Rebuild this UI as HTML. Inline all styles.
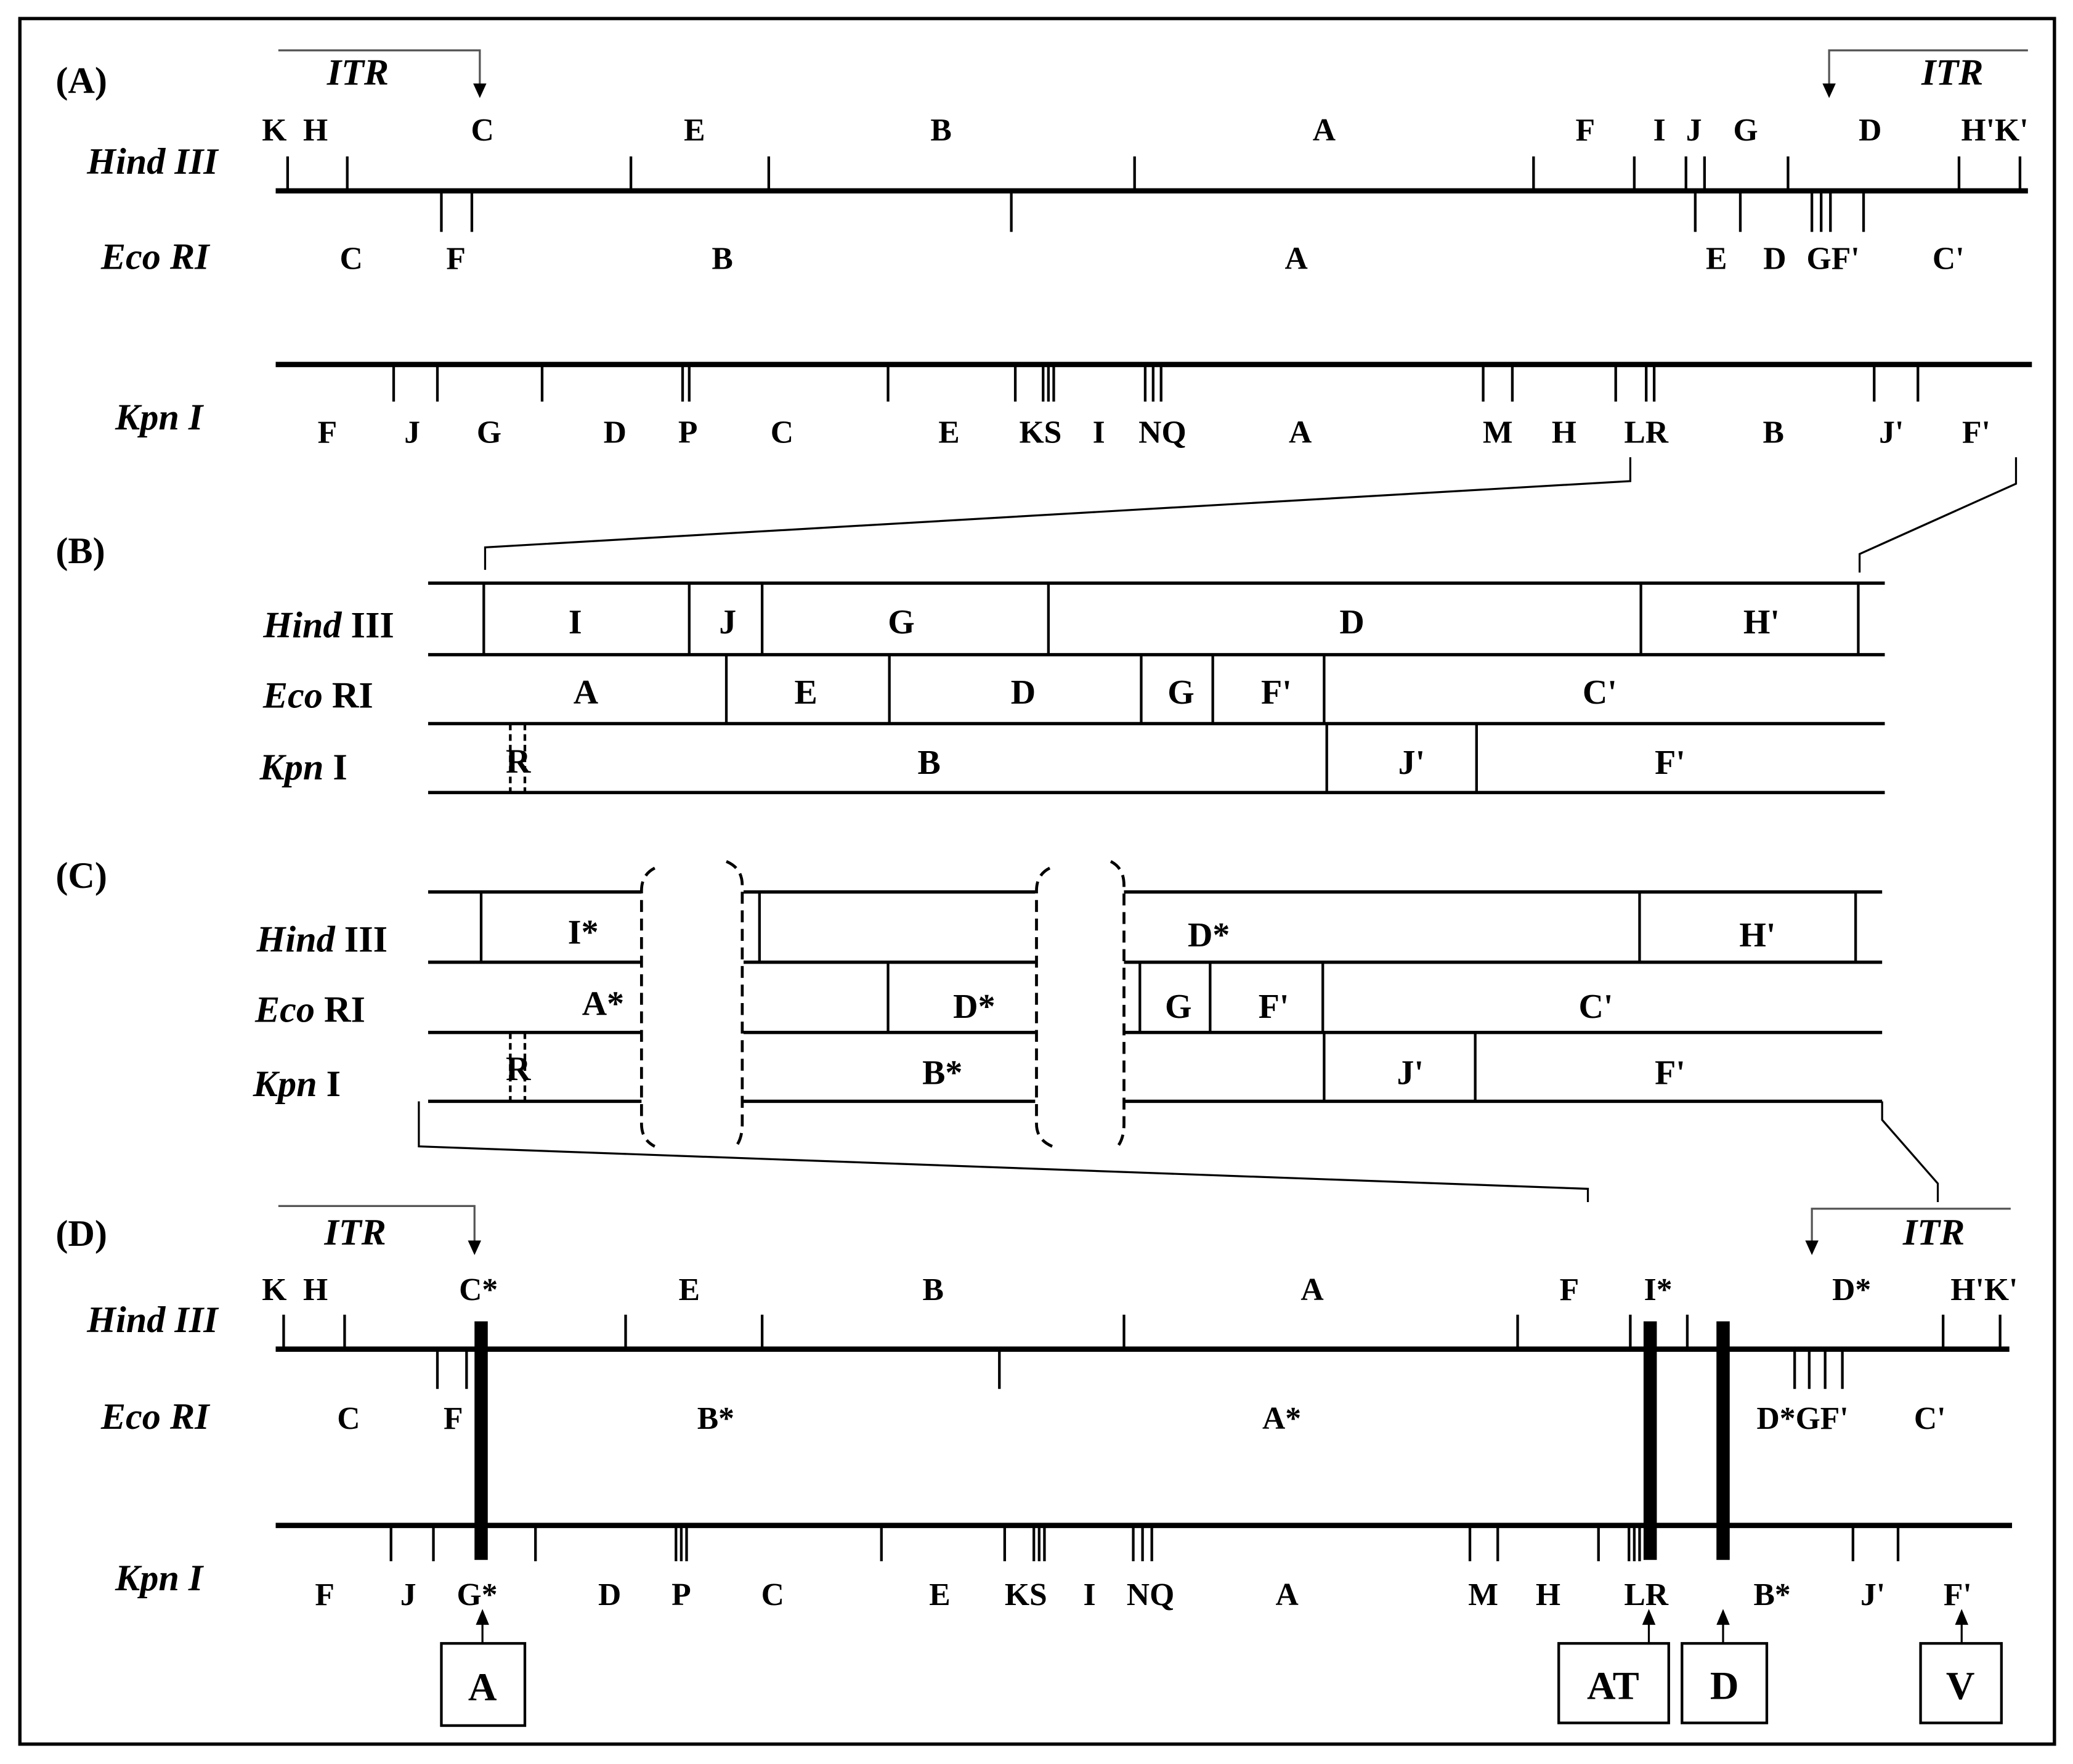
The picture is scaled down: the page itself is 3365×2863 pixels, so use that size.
<!DOCTYPE html>
<html><head><meta charset="utf-8"><style>
html,body{margin:0;padding:0;background:#fff}
svg{display:block}
text{font-family:"Liberation Serif",serif;font-weight:bold;fill:#000}
.l{font-size:24px;text-anchor:middle}
.n{font-size:28px;font-style:italic;text-anchor:middle}
.p{font-size:28px}
.b{font-size:30px;text-anchor:middle}
</style></head><body>
<svg width="3365" height="2863" viewBox="0 0 1564 1331" preserveAspectRatio="none" xmlns="http://www.w3.org/2000/svg">
<rect x="15" y="14" width="1535" height="1302" fill="none" stroke="#000" stroke-width="2.5"/>

<!-- (A) -->
<text class="p" x="42" y="70">(A)</text>
<path d="M210,38 H362 V64" fill="none" stroke="#555" stroke-width="1.5"/>
<path d="M1530,38 H1380 V64" fill="none" stroke="#555" stroke-width="1.5"/>
<path d="M357,63L367,63L362,74zM1375,63L1385,63L1380,74z" fill="#000"/>
<text class="n" x="270" y="64">ITR</text><text class="n" x="1473" y="64">ITR</text>
<g class="l"><text x="207" y="106">K</text><text x="238" y="106">H</text><text x="364" y="106">C</text><text x="524" y="106">E</text><text x="710" y="106">B</text><text x="999" y="106">A</text><text x="1196" y="106">F</text><text x="1252" y="106">I</text><text x="1278" y="106">J</text><text x="1317" y="106">G</text><text x="1411" y="106">D</text><text x="1505" y="106">H'K'</text></g>
<text class="n" x="115" y="131">Hind III</text>
<line x1="208" y1="144" x2="1530" y2="144" stroke="#000" stroke-width="4"/>
<path d="M217,118V144M262,118V144M476,118V144M580,118V144M856,118V144M1157,118V144M1233,118V144M1272,118V144M1286,118V144M1349,118V144M1478,118V144M1524,118V144" stroke="#000" stroke-width="2"/>
<path d="M333,144V175M356,144V175M763,144V175M1279,144V175M1313,144V175M1367,144V175M1374,144V175M1381,144V175M1406,144V175" stroke="#000" stroke-width="2"/>
<text class="n" x="117" y="203">Eco RI</text>
<g class="l"><text x="265" y="203">C</text><text x="344" y="203">F</text><text x="545" y="203">B</text><text x="978" y="203">A</text><text x="1295" y="203">E</text><text x="1339" y="203">D</text><text x="1383" y="203">GF'</text><text x="1470" y="203">C'</text></g>
<line x1="208" y1="275" x2="1533" y2="275" stroke="#000" stroke-width="4"/>
<path d="M297,275V303M330,275V303M409,275V303M515,275V303M520,275V303M670,275V303M766,275V303M787,275V303M791,275V303M795,275V303M864,275V303M870,275V303M876,275V303M1119,275V303M1141,275V303M1219,275V303M1242,275V303M1248,275V303M1414,275V303M1447,275V303" stroke="#000" stroke-width="2"/>
<text class="n" x="120" y="324">Kpn I</text>
<g class="l"><text x="247" y="334">F</text><text x="311" y="334">J</text><text x="369" y="334">G</text><text x="464" y="334">D</text><text x="519" y="334">P</text><text x="590" y="334">C</text><text x="716" y="334">E</text><text x="785" y="334">KS</text><text x="829" y="334">I</text><text x="877" y="334">NQ</text><text x="981" y="334">A</text><text x="1130" y="334">M</text><text x="1180" y="334">H</text><text x="1242" y="334">LR</text><text x="1338" y="334">B</text><text x="1427" y="334">J'</text><text x="1491" y="334">F'</text></g>
<path d="M1230,345V363L366,413V430M1521,345V365L1403,418V432" fill="none" stroke="#000" stroke-width="1.5"/>

<!-- (B) -->
<text class="p" x="42" y="425">(B)</text>
<path d="M323,440H1422M323,494H1422M323,546H1422M323,598H1422" stroke="#000" stroke-width="2.5"/>
<path d="M365,440V494M520,440V494M575,440V494M791,440V494M1238,440V494M1402,440V494M548,494V546M671,494V546M861,494V546M915,494V546M999,494V546M1001,546V598M1114,546V598" stroke="#000" stroke-width="2"/>
<path d="M385,546V598M396,546V598" stroke="#000" stroke-width="2" stroke-dasharray="5,3"/>
<text x="248" y="481" style="font-size:28px;text-anchor:middle"><tspan font-style="italic">Hind</tspan> III</text>
<text x="240" y="534" style="font-size:28px;text-anchor:middle"><tspan font-style="italic">Eco</tspan> RI</text>
<text x="229" y="588" style="font-size:28px;text-anchor:middle"><tspan font-style="italic">Kpn</tspan> I</text>
<g class="l" style="font-size:26px"><text x="434" y="478">I</text><text x="549" y="478">J</text><text x="680" y="478">G</text><text x="1020" y="478">D</text><text x="1329" y="478">H'</text>
<text x="442" y="531">A</text><text x="608" y="531">E</text><text x="772" y="531">D</text><text x="891" y="531">G</text><text x="963" y="531">F'</text><text x="1207" y="531">C'</text>
<text x="391" y="583">R</text><text x="701" y="584">B</text><text x="1065" y="584">J'</text><text x="1260" y="584">F'</text></g>

<!-- (C) -->
<text class="p" x="42" y="670">(C)</text>
<path d="M323,673H484M323,726H484M323,779H484M323,831H484M561,673H781M561,726H781M561,779H781M561,831H781M848,673H1420M848,726H1420M848,779H1420M848,831H1420" stroke="#000" stroke-width="2.5"/>
<path d="M363,673V726M573,673V726M1237,673V726M1400,673V726M670,726V779M860,726V779M913,726V779M998,726V779M999,779V831M1113,779V831" stroke="#000" stroke-width="2"/>
<path d="M385,779V831M396,779V831" stroke="#000" stroke-width="2" stroke-dasharray="5,3"/>
<path d="M494,655Q484,660 484,672V848Q484,860 494,865M548,650Q560,655 560,668V848Q560,858 556,864M792,655Q782,660 782,672V848Q782,860 794,865M838,650Q848,655 848,668V848Q848,858 844,864" fill="none" stroke="#000" stroke-width="2.2" stroke-dasharray="9,5"/>
<text x="243" y="718" style="font-size:28px;text-anchor:middle"><tspan font-style="italic">Hind</tspan> III</text>
<text x="234" y="771" style="font-size:28px;text-anchor:middle"><tspan font-style="italic">Eco</tspan> RI</text>
<text x="224" y="827" style="font-size:28px;text-anchor:middle"><tspan font-style="italic">Kpn</tspan> I</text>
<g class="l" style="font-size:26px"><text x="440" y="712">I*</text><text x="912" y="714">D*</text><text x="1326" y="714">H'</text>
<text x="455" y="766">A*</text><text x="735" y="768">D*</text><text x="889" y="768">G</text><text x="961" y="768">F'</text><text x="1204" y="768">C'</text>
<text x="391" y="815">R</text><text x="711" y="818">B*</text><text x="1064" y="818">J'</text><text x="1260" y="818">F'</text></g>
<path d="M316,831V865L1198,897V907M1420,831V845L1462,893V907" fill="none" stroke="#000" stroke-width="1.5"/>

<!-- (D) -->
<text class="p" x="42" y="940">(D)</text>
<path d="M210,910H358V937" fill="none" stroke="#555" stroke-width="1.5"/>
<path d="M1517,912H1367V937" fill="none" stroke="#555" stroke-width="1.5"/>
<path d="M353,936L363,936L358,947zM1362,936L1372,936L1367,947z" fill="#000"/>
<text class="n" x="268" y="939">ITR</text><text class="n" x="1459" y="939">ITR</text>
<g class="l"><text x="207" y="981">K</text><text x="238" y="981">H</text><text x="361" y="981">C*</text><text x="520" y="981">E</text><text x="704" y="981">B</text><text x="990" y="981">A</text><text x="1184" y="981">F</text><text x="1251" y="981">I*</text><text x="1397" y="981">D*</text><text x="1497" y="981">H'K'</text></g>
<text class="n" x="115" y="1005">Hind III</text>
<line x1="208" y1="1018" x2="1516" y2="1018" stroke="#000" stroke-width="4"/>
<path d="M214,992V1018M260,992V1018M472,992V1018M575,992V1018M848,992V1018M1145,992V1018M1230,992V1018M1273,992V1018M1466,992V1018M1509,992V1018" stroke="#000" stroke-width="2"/>
<path d="M330,1018V1048M352,1018V1048M754,1018V1048M1354,1018V1048M1365,1018V1048M1377,1018V1048M1390,1018V1048" stroke="#000" stroke-width="2"/>
<text class="n" x="117" y="1078">Eco RI</text>
<g class="l"><text x="263" y="1078">C</text><text x="342" y="1078">F</text><text x="540" y="1078">B*</text><text x="967" y="1078">A*</text><text x="1360" y="1078">D*GF'</text><text x="1456" y="1078">C'</text></g>
<line x1="208" y1="1151" x2="1518" y2="1151" stroke="#000" stroke-width="4"/>
<path d="M295,1151V1178M327,1151V1178M404,1151V1178M510,1151V1178M514,1151V1178M518,1151V1178M665,1151V1178M758,1151V1178M780,1151V1178M784,1151V1178M788,1151V1178M855,1151V1178M862,1151V1178M869,1151V1178M1109,1151V1178M1130,1151V1178M1206,1151V1178M1229,1151V1178M1233,1151V1178M1237,1151V1178M1398,1151V1178M1432,1151V1178" stroke="#000" stroke-width="2"/>
<text class="n" x="120" y="1200">Kpn I</text>
<g class="l"><text x="245" y="1211">F</text><text x="308" y="1211">J</text><text x="360" y="1211">G*</text><text x="460" y="1211">D</text><text x="514" y="1211">P</text><text x="583" y="1211">C</text><text x="709" y="1211">E</text><text x="774" y="1211">KS</text><text x="822" y="1211">I</text><text x="868" y="1211">NQ</text><text x="971" y="1211">A</text><text x="1119" y="1211">M</text><text x="1168" y="1211">H</text><text x="1242" y="1211">LR</text><text x="1337" y="1211">B*</text><text x="1413" y="1211">J'</text><text x="1477" y="1211">F'</text></g>
<rect x="358" y="997" width="10" height="180" fill="#000"/>
<rect x="1240" y="997" width="10" height="180" fill="#000"/>
<rect x="1295" y="997" width="10" height="180" fill="#000"/>
<path d="M364,1240V1224M1244,1240V1224M1300,1240V1224M1480,1240V1224" stroke="#000" stroke-width="1.5"/>
<path d="M359,1226L369,1226L364,1214zM1239,1226L1249,1226L1244,1214zM1295,1226L1305,1226L1300,1214zM1475,1226L1485,1226L1480,1214z" fill="#000"/>
<g fill="none" stroke="#000" stroke-width="2"><rect x="333" y="1240" width="63" height="62"/><rect x="1176" y="1240" width="83" height="60"/><rect x="1269" y="1240" width="64" height="60"/><rect x="1449" y="1240" width="61" height="60"/></g>
<g class="b"><text x="364" y="1283">A</text><text x="1217" y="1282">AT</text><text x="1301" y="1282">D</text><text x="1479" y="1282">V</text></g>
</svg>
</body></html>
